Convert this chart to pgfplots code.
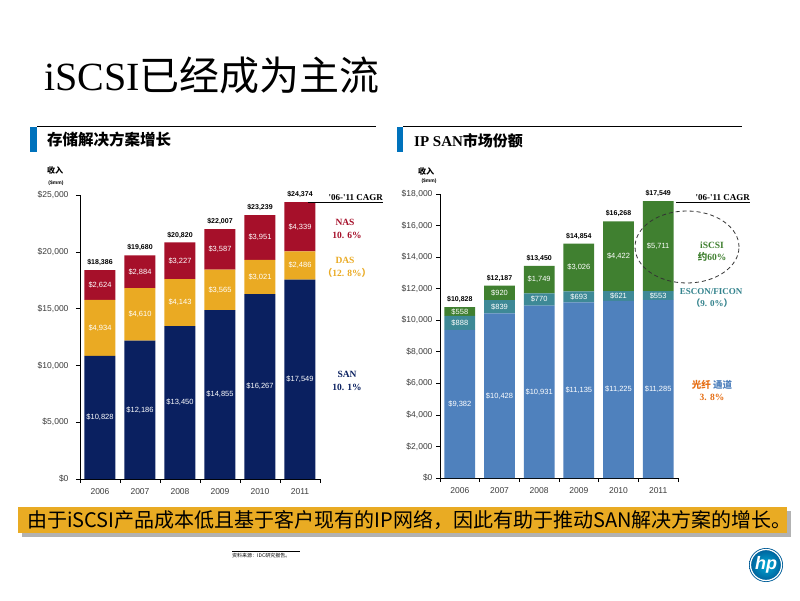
\documentclass[border=0pt]{standalone}
\usepackage{pgfplots}
\pgfplotsset{compat=1.18}
\usepackage{fontspec}
\setmainfont{Liberation Sans}
\newfontfamily\cjk{Noto Sans CJK SC}
\newfontfamily\lserif{Liberation Serif}
\definecolor{san}{RGB}{10,32,96}
\definecolor{das}{RGB}{234,170,35}
\definecolor{nas}{RGB}{166,16,42}
\definecolor{fibre}{RGB}{79,129,189}
\definecolor{escon}{RGB}{62,137,150}
\definecolor{iscsi}{RGB}{64,128,48}
\definecolor{escontxt}{RGB}{50,130,140}
\definecolor{orangetxt}{RGB}{230,110,20}
\definecolor{banner}{RGB}{233,171,35}
\definecolor{hpblue}{RGB}{0,114,188}
\definecolor{tickgray}{RGB}{60,60,60}
\pgfplotsset{
  chartbase/.style={
    anchor=south west, scale only axis, clip=false,
    xmin=-0.5, xmax=5.5, ymin=0,
  },
  barchart/.style={
    chartbase, ybar stacked, bar width=0.775,
    axis lines*=left, axis line style={black, line width=0.8pt},
    xtick={0,1,2,3,4,5}, xticklabels={2006,2007,2008,2009,2010,2011},
    major x tick style={draw=none},
    minor xtick={-0.5,0.5,1.5,2.5,3.5,4.5,5.5},
    tick align=outside, major tick length=4pt, minor tick length=4pt,
    tick style={black, line width=0.6pt},
    scaled y ticks=false,
    yticklabel={\$\pgfmathprintnumber{\tick}},
    /pgf/number format/fixed, /pgf/number format/1000 sep={,},
    /pgf/number format/assume math mode=true,
    ticklabel style={font=\fontsize{8.5}{9}\selectfont, text=tickgray},
    xticklabel style={yshift=-2pt},
  },
  labelaxis/.style={
    chartbase, hide axis,
    /pgf/number format/fixed, /pgf/number format/1000 sep={,},
    /pgf/number format/assume math mode=true,
  },
  inlabel/.style={draw=none, mark=none, point meta=explicit,
    nodes near coords={\$\pgfmathprintnumber{\pgfplotspointmeta}},
    nodes near coords style={anchor=center, text=white, font=\fontsize{7.5}{8}\selectfont, inner sep=0pt}},
  totlabel/.style={draw=none, mark=none, point meta=explicit,
    nodes near coords={\$\pgfmathprintnumber{\pgfplotspointmeta}},
    nodes near coords style={anchor=center, yshift=7.5pt, text=black, font=\bfseries\fontsize{7}{8}\selectfont, inner sep=0pt}},
}
\begin{document}
\begin{tikzpicture}[x=1pt,y=1pt]
\useasboundingbox (0,0) rectangle (800,600);
\fill[white] (0,0) rectangle (800,600);
% title
\node[anchor=west, inner sep=0] at (44,525) {\fontsize{40}{42}\selectfont{\lserif iSCSI}{\cjk 已经成为主流}};
% section headers
\draw[black, line width=0.8] (37,474) -- (376,474);
\fill[hpblue] (30,448) rectangle (37,473);
\node[anchor=west, inner sep=0] at (47,460) {\fontsize{15.5}{16}\selectfont\cjk\bfseries 存储解决方案增长};
\draw[black, line width=0.8] (403,474) -- (742,474);
\fill[hpblue] (397,448) rectangle (403,473);
\node[anchor=west, inner sep=0] at (414,459) {\fontsize{15}{16}\selectfont{\lserif\bfseries IP SAN}{\cjk\bfseries 市场份额}};
% y axis titles
\node[inner sep=0] at (55,430) {\fontsize{8}{9}\selectfont\cjk\bfseries 收入};
\node[inner sep=0] at (56,417) {\fontsize{5}{6}\selectfont\bfseries (\$mm)};
\node[inner sep=0] at (426,429) {\fontsize{8}{9}\selectfont\cjk\bfseries 收入};
\node[inner sep=0] at (429,419) {\fontsize{5}{6}\selectfont\bfseries (\$mm)};

% ---------- left chart ----------
\begin{axis}[barchart, at={(80pt,121pt)}, width=240pt, height=284pt, ymax=25000,
  ytick={0,5000,10000,15000,20000,25000}, yticklabel style={xshift=-4pt}]
\addplot[fill=san, draw=none] coordinates {(0,10828) (1,12186) (2,13450) (3,14855) (4,16267) (5,17549)};
\addplot[fill=das, draw=none] coordinates {(0,4934) (1,4610) (2,4143) (3,3565) (4,3021) (5,2486)};
\addplot[fill=nas, draw=none] coordinates {(0,2624) (1,2884) (2,3227) (3,3587) (4,3951) (5,4339)};
\end{axis}
\begin{axis}[labelaxis, at={(80pt,121pt)}, width=240pt, height=284pt, ymax=25000]
% x, mid-height of segment, segment value
\addplot[inlabel] table[meta=v] {
x y v
0 5414 10828
1 6093 12186
2 6725 13450
3 7427.5 14855
4 8133.5 16267
5 8774.5 17549
0 13295 4934
1 14491 4610
2 15521.5 4143
3 16637.5 3565
4 17777.5 3021
5 18792 2486
0 17074 2624
1 18238 2884
2 19206.5 3227
3 20213.5 3587
4 21263.5 3951
5 22204.5 4339
};
\addplot[totlabel] table[meta=v] {
x y v
0 18386 18386
1 19680 19680
2 20820 20820
3 22007 22007
4 23239 23239
5 24374 24374
};
\end{axis}

% ---------- right chart ----------
\begin{axis}[barchart, at={(440pt,122pt)}, width=238pt, height=284pt, ymax=18000,
  ytick={0,2000,4000,6000,8000,10000,12000,14000,16000,18000}]
\addplot[fill=fibre, draw=none] coordinates {(0,9382) (1,10428) (2,10931) (3,11135) (4,11225) (5,11285)};
\addplot[fill=escon, draw=none] coordinates {(0,888) (1,839) (2,770) (3,693) (4,621) (5,553)};
\addplot[fill=iscsi, draw=none] coordinates {(0,558) (1,920) (2,1749) (3,3026) (4,4422) (5,5711)};
\end{axis}
\begin{axis}[labelaxis, at={(440pt,122pt)}, width=238pt, height=284pt, ymax=18000]
\addplot[inlabel] table[meta=v] {
x y v
0 4691 9382
1 5214 10428
2 5465.5 10931
3 5567.5 11135
4 5612.5 11225
5 5642.5 11285
0 9826 888
1 10847.5 839
2 11316 770
3 11481.5 693
4 11535.5 621
5 11561.5 553
0 10549 558
1 11727 920
2 12575.5 1749
3 13341 3026
4 14057 4422
5 14693.5 5711
};
\addplot[totlabel] table[meta=v] {
x y v
0 10828 10828
1 12187 12187
2 13450 13450
3 14854 14854
4 16268 16268
5 17549 17549
};
\end{axis}

% ---------- annotations ----------
\begin{scope}[every node/.style={inner sep=0}]
\draw[black, line width=0.7] (308,398) -- (383,398);
\node[anchor=east] at (383,402.5) {\fontsize{9}{10}\selectfont\lserif\bfseries '06-'11 CAGR};
\node[text=nas] at (345,378) {\fontsize{9.5}{10}\selectfont\lserif\bfseries NAS};
\node[text=nas] at (347,365) {\fontsize{9.5}{10}\selectfont\lserif\bfseries 10. 6\%};
\node[text=das] at (345,340) {\fontsize{9.5}{10}\selectfont\lserif\bfseries DAS};
\node[text=das] at (347,327) {\fontsize{9.5}{10}\selectfont\lserif\bfseries{\cjk （}12. 8\%{\cjk ）}};
\node[text=san] at (347,225.7) {\fontsize{9.5}{10}\selectfont\lserif\bfseries SAN};
\node[text=san] at (347,213) {\fontsize{9.5}{10}\selectfont\lserif\bfseries 10. 1\%};

\draw[black, line width=0.7] (676,398) -- (750,398);
\node[anchor=east] at (750,402.5) {\fontsize{9}{10}\selectfont\lserif\bfseries '06-'11 CAGR};
\draw[black!80, line width=0.8, dash pattern=on 4pt off 3pt] (687,353) ellipse (52 and 36);
\node[text=iscsi] at (712,355) {\fontsize{9.5}{10}\selectfont\lserif\bfseries iSCSI};
\node[text=iscsi] at (712,343) {\fontsize{9.5}{10}\selectfont\bfseries{\cjk 约}{\lserif 60\%}};
\node[text=escontxt] at (711,308) {\fontsize{9}{10}\selectfont\lserif\bfseries ESCON/FICON};
\node[text=escontxt] at (712,297) {\fontsize{9}{10}\selectfont\lserif\bfseries{\cjk （}9. 0\%{\cjk ）}};
\node at (712,215) {\fontsize{9.5}{10}\selectfont\cjk\bfseries\textcolor{orangetxt}{光纤} \textcolor{fibre}{通道}};
\node[text=orangetxt] at (712,203) {\fontsize{9.5}{10}\selectfont\lserif\bfseries 3. 8\%};
\end{scope}

% ---------- banner ----------
\fill[black!30] (22,63) rectangle (791,89);
\fill[banner] (18,67) rectangle (787,93);
\node[anchor=west, inner sep=0] at (27,80) {\fontsize{20}{20}\selectfont\cjk 由于iSCSI产品成本低且基于客户现有的IP网络，因此有助于推动SAN解决方案的增长。};

% source
\draw[black, line width=0.4] (232,49) -- (300,49);
\node[anchor=west, inner sep=0] at (232,44) {\fontsize{5}{6}\selectfont\cjk 资料来源：IDC研究报告。};

% HP logo
\shade[inner color=hpblue!60!cyan, outer color=hpblue!80!black] (766,35) circle (17);
\draw[white, line width=1.2] (766,35) circle (15.5);
\node[text=white, inner sep=0] at (766,35) {\fontsize{18}{18}\selectfont\bfseries\itshape hp};
\end{tikzpicture}
\end{document}
